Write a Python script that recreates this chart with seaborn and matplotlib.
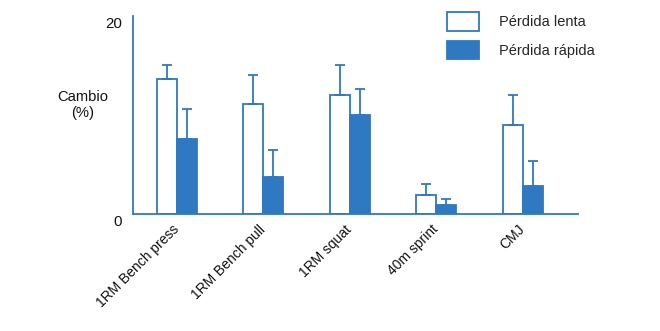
import matplotlib
matplotlib.use("Agg")
import matplotlib.pyplot as plt
from matplotlib.transforms import ScaledTranslation
import numpy as np
import pandas as pd
import seaborn as sns

# Test names and group labels
categories = ["1RM Bench press", "1RM Bench pull", "1RM squat", "40m sprint", "CMJ"]
groups = ["Pérdida lenta", "Pérdida rápida"]

# Mean change (%) and upper error per group
lenta = [13.6, 11.1, 12.0, 1.9, 9.0]
lenta_err = [1.45, 2.9, 3.05, 1.1, 3.0]
rapida = [7.6, 3.75, 10.0, 0.9, 2.85]
rapida_err = [3.0, 2.75, 2.6, 0.6, 2.5]

y_ticks = [0, 20]
y_label = "Cambio\n(%)"

BLUE = "#2F79C3"
TEXT = "#111111"

df = pd.DataFrame({
    "test": categories * 2,
    "grupo": [groups[0]] * len(categories) + [groups[1]] * len(categories),
    "cambio": lenta + rapida,
})
errors = {groups[0]: lenta_err, groups[1]: rapida_err}

sns.set_theme(style="white")
plt.rcParams["font.family"] = ["Liberation Sans", "DejaVu Sans"]

fig = plt.figure(figsize=(6.6, 3.31), dpi=100)
ax = fig.add_axes([133 / 660, 1 - 214 / 331, 445 / 660, 198 / 331])

sns.barplot(
    data=df, x="test", y="cambio", hue="grupo", order=categories,
    hue_order=groups, palette={groups[0]: "white", groups[1]: BLUE},
    edgecolor=BLUE, linewidth=1.3, width=0.462, errorbar=None, ax=ax,
    saturation=1,
)

# one-sided (upper) error bars placed on the drawn bars
for container, grp in zip(ax.containers, groups):
    xs = [b.get_x() + b.get_width() / 2 for b in container]
    hs = [b.get_height() for b in container]
    err = errors[grp]
    ax.errorbar(xs, hs, yerr=[np.zeros(len(err)), err], fmt="none",
                ecolor=BLUE, elinewidth=1.3, capsize=3.3, capthick=1.3,
                zorder=1)

ax.set_xlim(-0.505, 4.64)
ax.set_ylim(0, 20)
ax.set_yticks(y_ticks)
ax.set_xlabel("")
ax.set_ylabel("")

for side in ["top", "right"]:
    ax.spines[side].set_visible(False)
for side in ["left", "bottom"]:
    ax.spines[side].set_color(BLUE)
    ax.spines[side].set_linewidth(1.3)

ax.tick_params(axis="y", length=0, pad=8, labelsize=10.8, labelcolor=TEXT)
ax.tick_params(axis="x", length=0, pad=6, labelsize=10, labelcolor=TEXT)
plt.setp(ax.get_xticklabels(), rotation=45, ha="right")
for lab in ax.get_yticklabels():
    lab.set_transform(lab.get_transform()
                      + ScaledTranslation(0, -6 / 100, fig.dpi_scale_trans))
for lab in ax.get_xticklabels():
    lab.set_transform(lab.get_transform()
                      + ScaledTranslation(5 / 100, 0, fig.dpi_scale_trans))

fig.text(82.7 / 660, 1 - 105 / 331, y_label, ha="center", va="center",
         multialignment="center", fontsize=10.6, color=TEXT)

fs = 10.5
handles, labels = ax.get_legend_handles_labels()
ax.legend(handles, labels, loc="upper left",
          bbox_to_anchor=(447 / 660, 1 - 12 / 331),
          bbox_transform=fig.transFigure, frameon=False, fontsize=fs,
          borderpad=0, borderaxespad=0, handlelength=2.2, handleheight=1.62,
          labelspacing=0.66, handletextpad=1.35)

fig.savefig("out.png", dpi=100)
